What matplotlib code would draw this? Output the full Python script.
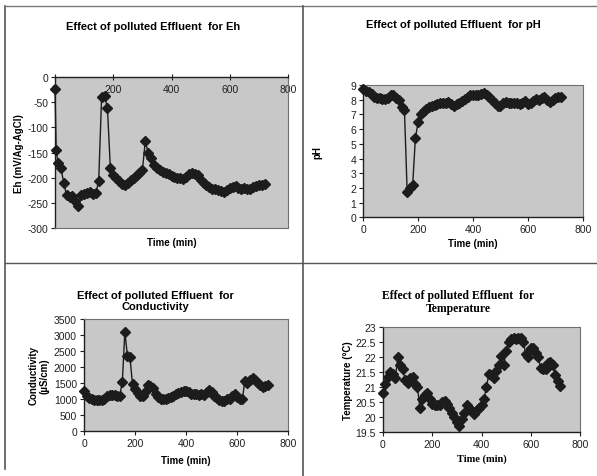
import matplotlib
matplotlib.use('Agg')
import matplotlib.pyplot as plt
from matplotlib.lines import Line2D

plt.rcParams['font.family'] = ['Liberation Sans', 'DejaVu Sans']
plt.rcParams['axes.unicode_minus'] = False

# sample times (min), every 10 min
time_min = [0, 10, 20, 30, 40, 50, 60, 70, 80, 90, 100, 110, 120, 130, 140, 150,
            160, 170, 180, 190, 200, 210, 220, 230, 240, 250, 260, 270, 280, 290,
            300, 310, 320, 330, 340, 350, 360, 370, 380, 390, 400, 410, 420, 430,
            440, 450, 460, 470, 480, 490, 500, 510, 520, 530, 540, 550, 560, 570,
            580, 590, 600, 610, 620, 630, 640, 650, 660, 670, 680, 690, 700, 710, 720]

# Eh has an extra reading right after start
eh_time = [0, 4] + time_min[1:]
eh_mv = [-25, -145, -170, -180, -210, -235, -238, -236, -245, -255, -235, -232,
         -230, -228, -232, -230, -207, -40, -38, -62, -180, -195, -200, -207,
         -212, -215, -210, -205, -200, -195, -190, -185, -128, -150, -160, -175,
         -180, -185, -188, -190, -193, -196, -198, -200, -200, -203, -198, -192,
         -190, -193, -195, -205, -210, -215, -218, -222, -223, -225, -227, -228,
         -225, -220, -218, -217, -220, -222, -220, -223, -222, -218, -216, -215,
         -214, -213]

ph = [8.7, 8.6, 8.5, 8.4, 8.2, 8.1, 8.1, 8.05, 8.05, 8.1, 8.35, 8.3, 8.1, 8.0,
      7.5, 7.3, 1.7, 2.0, 2.2, 5.4, 6.5, 7.0, 7.2, 7.35, 7.5, 7.6, 7.65, 7.7,
      7.75, 7.75, 7.8, 7.85, 7.7, 7.6, 7.7, 7.8, 7.9, 8.05, 8.2, 8.3, 8.3, 8.3,
      8.35, 8.4, 8.45, 8.3, 8.15, 8.0, 7.8, 7.6, 7.55, 7.8, 7.85, 7.8, 7.8, 7.75,
      7.8, 7.7, 7.8, 7.9, 7.7, 7.8, 7.9, 8.05, 8.0, 8.1, 8.2, 8.0, 7.85, 8.0,
      8.1, 8.15, 8.2]

conductivity = [1230, 1100, 1040, 990, 960, 950, 950, 960, 1000, 1100, 1130, 1120,
                1130, 1100, 1100, 1520, 3100, 2350, 2300, 1450, 1300, 1170, 1100,
                1100, 1200, 1420, 1400, 1330, 1150, 1050, 1000, 1000, 1000, 1020,
                1050, 1100, 1150, 1180, 1200, 1230, 1230, 1200, 1150, 1160, 1150,
                1130, 1150, 1130, 1200, 1270, 1200, 1100, 1030, 950, 920, 930, 980,
                1000, 1100, 1150, 1050, 1000, 980, 1570, 1500, 1580, 1650, 1580,
                1500, 1420, 1380, 1400, 1440]

temperature = [20.8, 21.1, 21.35, 21.5, 21.45, 21.3, 22.0, 21.75, 21.6, 21.25,
               21.15, 21.3, 21.35, 21.1, 21.0, 20.3, 20.6, 20.75, 20.8, 20.6, 20.45,
               20.4, 20.4, 20.4, 20.5, 20.55, 20.45, 20.3, 20.15, 20.0, 19.85, 19.7,
               19.95, 20.15, 20.4, 20.3, 20.2, 20.1, 20.25, 20.3, 20.4, 20.6, 21.0,
               21.45, 21.4, 21.3, 21.55, 21.75, 22.05, 21.75, 22.2, 22.5, 22.6, 22.65,
               22.6, 22.65, 22.65, 22.5, 22.1, 22.0, 22.3, 22.3, 22.15, 22.0, 21.65,
               21.6, 21.6, 21.8, 21.85, 21.75, 21.4, 21.2, 21.05]

x_ticks = [0, 200, 400, 600, 800]

bg = '#c8c8c8'
ink = '#1c1c1c'
fs_tick = 7.5
fs_lab = 7
fs_title = 8

fig = plt.figure(figsize=(5.97, 4.77), dpi=100)

# panel borders
fig.add_artist(Line2D([5/597, 5/597], [0.015, 1 - 7/477], color='#555555', lw=1.2))
fig.add_artist(Line2D([5/597, 1.0], [1 - 7/477, 1 - 7/477], color='#777777', lw=1.0))
fig.add_artist(Line2D([303/597, 303/597], [0.0, 1 - 7/477], color='#555555', lw=1.2))
fig.add_artist(Line2D([5/597, 1.0], [1 - 264/477, 1 - 264/477], color='#555555', lw=1.0))


def style(ax, axis_top=False):
    ax.set_facecolor(bg)
    for s in ax.spines.values():
        s.set_color('#707070')
        s.set_linewidth(0.8)
        s.set_linestyle((0, (1, 1)))
    for s in ['left', 'top' if axis_top else 'bottom']:
        ax.spines[s].set_color('#202020')
        ax.spines[s].set_linestyle('-')
        ax.spines[s].set_linewidth(1.0)
    ax.tick_params(labelsize=fs_tick, length=3, width=0.8, colors='#202020', pad=2)


def draw(ax, t, v):
    ax.plot(t, v, color=ink, lw=1.0, marker='D', ms=5, mfc=ink, mec=ink,
            zorder=3, clip_on=False)


# Eh
ax1 = fig.add_axes([55/597, 1 - 229.3/477, 233/597, 151.6/477])
style(ax1, axis_top=True)
draw(ax1, eh_time, eh_mv)
ax1.set_xlim(0, 800)
ax1.set_ylim(-300, 0)
ax1.set_yticks([0, -50, -100, -150, -200, -250, -300])
ax1.set_xticks(x_ticks)
ax1.xaxis.set_ticks_position('top')
ax1.tick_params(axis='x', direction='inout', length=5, labeltop=True,
                labelbottom=False, pad=-15)
ax1.set_ylabel('Eh (mV/Ag-AgCl)', fontsize=fs_lab, fontweight='bold', labelpad=2)
ax1.set_title('Effect of polluted Effluent  for Eh', fontsize=fs_title,
              fontweight='bold', pad=34, x=0.42)
fig.text(172/597, 1 - 243/477, 'Time (min)', ha='center', va='center',
         fontsize=fs_lab, fontweight='bold')

# pH
ax2 = fig.add_axes([363.3/597, 1 - 218.3/477, 219.4/597, 132.3/477])
style(ax2)
draw(ax2, time_min, ph)
ax2.set_xlim(0, 800)
ax2.set_ylim(0, 9)
ax2.set_yticks(range(0, 10))
ax2.set_xticks(x_ticks)
ax2.set_ylabel('pH', fontsize=fs_lab, fontweight='bold', labelpad=20)
ax2.set_xlabel('Time (min)', fontsize=fs_lab, fontweight='bold', labelpad=3)
ax2.set_title('Effect of polluted Effluent  for pH', fontsize=fs_title,
              fontweight='bold', pad=42, x=0.41)

# Conductivity
ax3 = fig.add_axes([84/597, 1 - 431.7/477, 204.3/597, 111.7/477])
style(ax3)
draw(ax3, time_min, conductivity)
ax3.set_xlim(0, 800)
ax3.set_ylim(0, 3500)
ax3.set_yticks(range(0, 3501, 500))
ax3.set_xticks(x_ticks)
ax3.set_ylabel('Conductivity\n(\u00b5S/cm)', fontsize=fs_lab, fontweight='bold',
               labelpad=3, linespacing=1.1)
ax3.set_xlabel('Time (min)', fontsize=fs_lab, fontweight='bold', labelpad=5)
ax3.set_title('Effect of polluted Effluent  for\nConductivity', fontsize=fs_title,
              fontweight='bold', pad=7, x=0.35, linespacing=1.15)

# Temperature
ax4 = fig.add_axes([383/597, 1 - 433.3/477, 197/597, 105/477])
style(ax4)
draw(ax4, time_min, temperature)
ax4.set_xlim(0, 800)
ax4.set_ylim(19.5, 23)
ax4.set_yticks([19.5, 20, 20.5, 21, 21.5, 22, 22.5, 23])
ax4.set_yticklabels(['19.5', '20', '20.5', '21', '21.5', '22', '22.5', '23'])
ax4.set_xticks(x_ticks)
ax4.set_ylabel('Temperature (\u00b0C)', fontsize=fs_lab, fontweight='bold',
               labelpad=2)
ax4.set_xlabel('Time (min)', fontsize=fs_lab + 0.5, fontweight='bold', labelpad=3,
               family=['Liberation Serif', 'DejaVu Serif'])
ax4.set_title('Effect of polluted Effluent  for\nTemperature', fontsize=fs_title + 0.5,
              fontweight='bold', pad=12, x=0.38, linespacing=1.1,
              family=['Liberation Serif', 'DejaVu Serif'])

fig.savefig('out.png', dpi=100, facecolor='white')
